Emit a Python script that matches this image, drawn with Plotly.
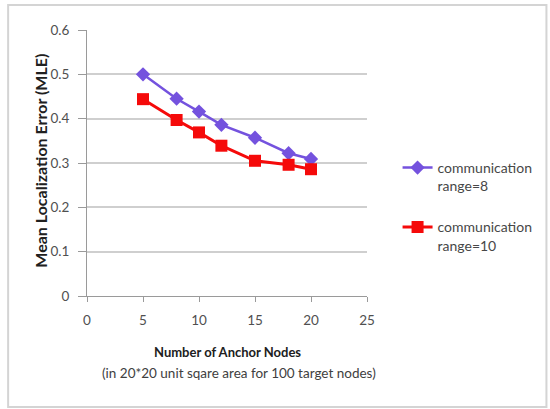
import plotly.graph_objects as go

# Number of anchor nodes on the x axis
anchor_nodes = [5, 8, 10, 12, 15, 18, 20]
# Mean localization error for each communication range
mle_range8 = [0.500, 0.445, 0.416, 0.386, 0.357, 0.322, 0.309]
mle_range10 = [0.444, 0.397, 0.369, 0.339, 0.305, 0.296, 0.286]

series_names = ["communication<br>range=8", "communication<br>range=10"]
y_ticks = [0, 0.1, 0.2, 0.3, 0.4, 0.5, 0.6]
y_tick_text = ["0", "0.1", "0.2", "0.3", "0.4", "0.5", "0.6"]
x_ticks = [0, 5, 10, 15, 20, 25]

FONT = "Lato"
W, H = 550, 409
L, R, T, B = 87, 179, 30, 113
PW, PH = W - L - R, H - T - B


def px_x(x):
    return (x - L) / PW


def px_y(y):
    return (H - B - y) / PH


fig = go.Figure()
fig.add_trace(go.Scatter(
    x=anchor_nodes, y=mle_range8, name=series_names[0], mode="lines+markers",
    line=dict(color="#7452DE", width=2.5),
    marker=dict(symbol="diamond", size=11, color="#7452DE"),
    legendgroup="a",
))
fig.add_trace(go.Scatter(
    x=anchor_nodes, y=mle_range10, name=series_names[1], mode="lines+markers",
    line=dict(color="#F50A0A", width=3),
    marker=dict(symbol="square", size=12, color="#F50A0A"),
    legendgroup="b",
))

fig.update_layout(
    width=W, height=H,
    margin=dict(l=L, r=R, t=T, b=B),
    paper_bgcolor="white", plot_bgcolor="white",
    font=dict(family=FONT, size=12, color="#505050"),
    showlegend=True,
    legend=dict(
        x=px_x(402), y=px_y(152), xanchor="left", yanchor="top",
        font=dict(family=FONT, size=14, color="#474747"),
        tracegroupgap=20, valign="top", bgcolor="rgba(0,0,0,0)",
        itemwidth=30,
    ),
    xaxis=dict(
        range=[0, 25], tickvals=x_ticks, showgrid=False, zeroline=False,
        showline=True, linecolor="#9a9a9a", linewidth=1,
        ticks="outside", ticklen=5, tickcolor="#9a9a9a",
        ticklabelstandoff=7, tickfont=dict(family=FONT, size=13.5, color="#505050"),
    ),
    yaxis=dict(
        range=[0, 0.6], tickvals=y_ticks, ticktext=y_tick_text,
        showgrid=True, gridcolor="#cfcfcf", gridwidth=2, zeroline=False,
        showline=True, linecolor="#9a9a9a", linewidth=1,
        ticks="outside", ticklen=8, tickcolor="#9a9a9a",
        ticklabelstandoff=6, tickfont=dict(family=FONT, size=13.5, color="#505050"),
    ),
    shapes=[dict(
        type="rect", xref="paper", yref="paper",
        x0=px_x(7), x1=px_x(553), y0=px_y(407), y1=px_y(5),
        line=dict(color="#d4d4d4", width=2), layer="below",
    )],
    annotations=[
        dict(text="<b>Mean Localization Error (MLE)</b>", textangle=-90,
             xref="paper", yref="paper", x=px_x(40), y=px_y(161),
             xanchor="center", yanchor="middle", showarrow=False,
             font=dict(family=FONT, size=16, color="#202020")),
        dict(text="<b>Number of Anchor Nodes</b>",
             xref="paper", yref="paper", x=px_x(229), y=px_y(352),
             xanchor="center", yanchor="middle", showarrow=False,
             font=dict(family=FONT, size=13, color="#202020")),
        dict(text="(in 20*20 unit sqare area for 100 target nodes)",
             xref="paper", yref="paper", x=px_x(241), y=px_y(373),
             xanchor="center", yanchor="middle", showarrow=False,
             font=dict(family=FONT, size=13.5, color="#404040")),
    ],
)

fig.write_html("out.html")
